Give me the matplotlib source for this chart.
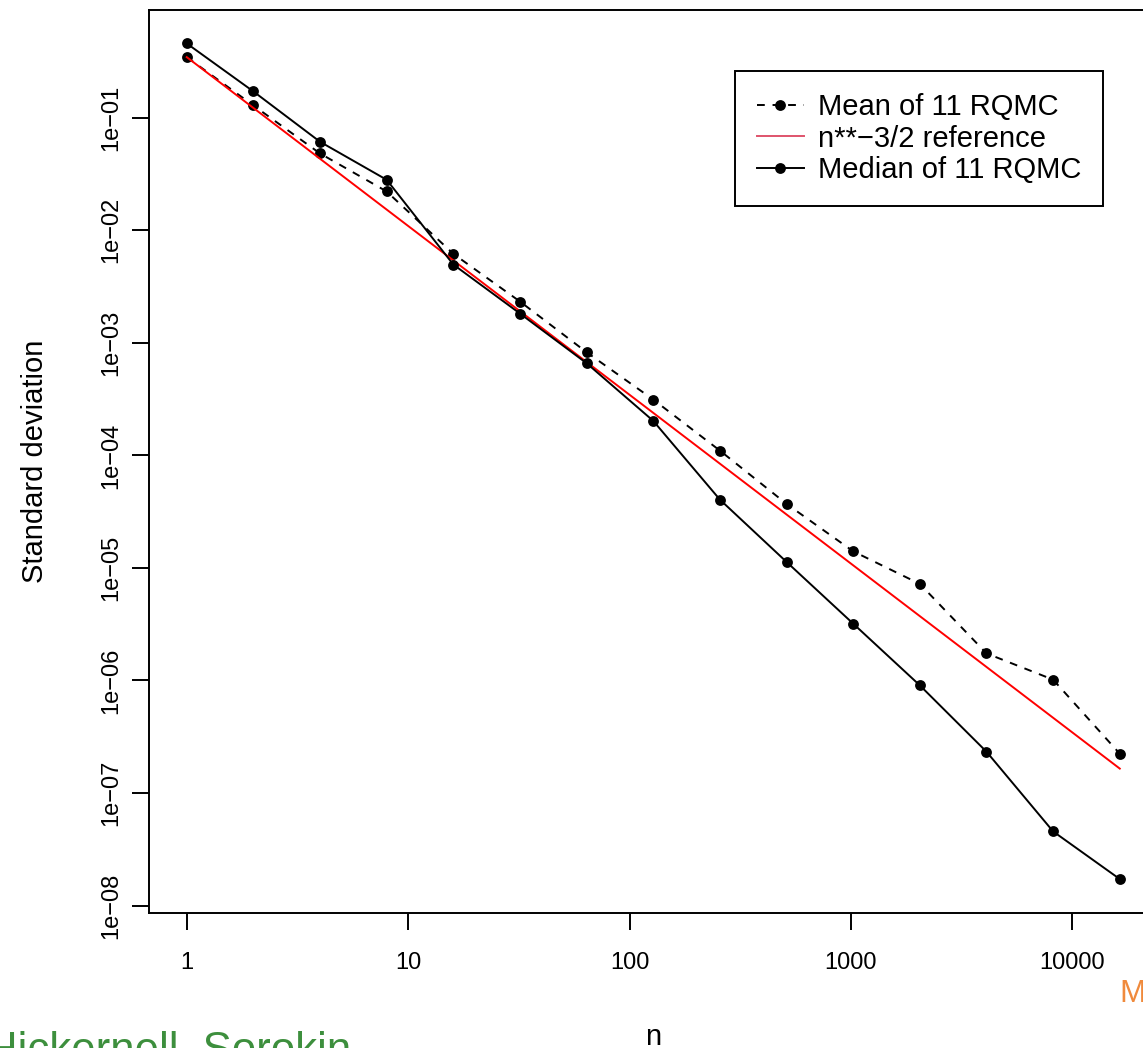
import numpy as np
import matplotlib.pyplot as plt

plt.rcParams['font.family'] = ['Liberation Sans', 'DejaVu Sans']

#========================================================
# data
#========================================================
n = np.array([1, 2, 4, 8, 16, 32, 64, 128, 256, 512, 1024, 2048, 4096, 8192, 16384])

mean_sd = [0.3457, 0.1286, 0.04817, 0.02213, 0.006182, 0.002329, 0.0008249,
           0.0003133, 0.0001103, 3.706e-5, 1.405e-5, 7.21e-6, 1.741e-6,
           1.017e-6, 2.235e-7]

median_sd = [0.4574, 0.1713, 0.06118, 0.02811, 0.004966, 0.001822, 0.000659,
             0.0002026, 4.047e-5, 1.131e-5, 3.198e-6, 9.05e-7, 2.329e-7,
             4.558e-8, 1.72e-8]

# reference line n**-3/2, anchored at the first mean value
ref_scale = mean_sd[0]
ref_power = -1.5
ref_sd = ref_scale * n.astype(float) ** ref_power

x_ticks = [1, 10, 100, 1000, 10000]
x_ticklabels = ["1", "10", "100", "1000", "10000"]
y_ticks = [1e-1, 1e-2, 1e-3, 1e-4, 1e-5, 1e-6, 1e-7, 1e-8]
y_ticklabels = ["1e\u221201", "1e\u221202", "1e\u221203", "1e\u221204",
                "1e\u221205", "1e\u221206", "1e\u221207", "1e\u221208"]

#========================================================
# R-style axis ranges (4% padding in log space)
#========================================================
def r_range(vals):
    lv = np.log10(vals)
    pad = 0.04 * (lv.max() - lv.min())
    return 10 ** (lv.min() - pad), 10 ** (lv.max() + pad)

W, H = 1143, 1048
fig = plt.figure(figsize=(W / 100, H / 100), dpi=100)
# the axes box runs past the right edge of the (cropped) picture
ax = fig.add_axes([149.4 / W, 1 - 912.5 / H, 1007.7 / W, 902.5 / H])

lw = 1.4
ax.plot(n, mean_sd, color="black", lw=lw, linestyle=(0, (4, 4)),
        marker="o", ms=7.8, mew=0)
ax.plot(n, ref_sd, color="red", lw=lw)
ax.plot(n, median_sd, color="black", lw=lw, marker="o", ms=7.8, mew=0)

ax.set_xscale("log")
ax.set_yscale("log")
ax.set_xlim(*r_range(n))
ax.set_ylim(*r_range(np.concatenate([mean_sd, median_sd])))

ax.set_xticks(x_ticks)
ax.set_xticklabels(x_ticklabels)
ax.set_yticks(y_ticks)
ax.set_yticklabels(y_ticklabels)
ax.minorticks_off()
ax.tick_params(axis="both", length=12.5, width=lw, labelsize=17, color="black")
ax.tick_params(axis="x", pad=16)
ax.tick_params(axis="y", pad=7, labelrotation=90)
for lab in ax.get_yticklabels():
    lab.set_va("center")

for sp in ax.spines.values():
    sp.set_linewidth(lw)

ax.set_ylabel("Standard deviation", fontsize=21)
ax.yaxis.set_label_coords((35 - 149.4) / 1007.7, 0.5)
ax.yaxis.label.set_va("center")
ax.set_xlabel("n", fontsize=21)
ax.xaxis.set_label_coords(0.5, -(1045 - 912.5) / 902.5)
ax.xaxis.label.set_va("baseline")

# legend (legend uses R palette colour 2 for the reference line)
h_mean = plt.Line2D([], [], color="black", lw=lw, linestyle=(0, (4, 4)),
                    marker="o", ms=7.8, mew=0)
h_ref = plt.Line2D([], [], color="#DF536B", lw=lw)
h_med = plt.Line2D([], [], color="black", lw=lw, marker="o", ms=7.8, mew=0)
leg = ax.legend([h_mean, h_ref, h_med],
                ["Mean of 11 RQMC", "n**\u22123/2 reference", "Median of 11 RQMC"],
                loc="upper left",
                bbox_to_anchor=((735 - 149.4) / 1007.7, (912.5 - 71) / 902.5),
                fontsize=21, frameon=True, fancybox=False, framealpha=1,
                edgecolor="black", borderpad=0.75, labelspacing=0.13,
                handlelength=1.6, handletextpad=0.5, borderaxespad=0,
                numpoints=1)
leg.get_frame().set_linewidth(lw)

# overlay texts from the slide, partly cut off by the crop
fig.text(-14.5 / W, 1 - 1063 / H, "Hickernell, Sorokin", color="#3D8F3D",
         fontsize=31.5, va="baseline", ha="left")
fig.text(1119 / W, 1 - 1001.7 / H, "M", color="#F08A3C",
         fontsize=22.8, va="baseline", ha="left")

fig.savefig("out.png", dpi=100)
